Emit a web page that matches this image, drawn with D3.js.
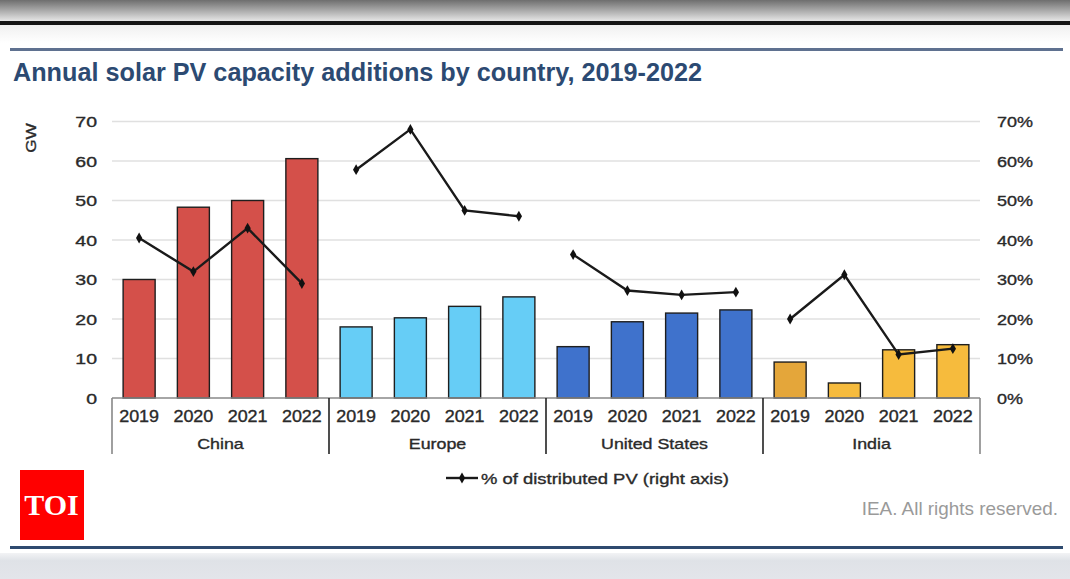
<!DOCTYPE html>
<html><head><meta charset="utf-8">
<script src="https://cdn.jsdelivr.net/npm/d3@7/dist/d3.min.js"></script>
<style>html,body{margin:0;padding:0;background:#fff;}svg{display:block;}</style>
</head><body>
<script>
const countries = ["China", "Europe", "United States", "India"];
const years = ["2019", "2020", "2021", "2022"];
const gwChina = [30, 48.3, 50, 60.6];
const gwEurope = [18, 20.3, 23.2, 25.6];
const gwUS = [13, 19.3, 21.5, 22.3];
const gwIndia = [9.1, 3.8, 12.2, 13.5];
const pctChina = [40.5, 32, 43, 29];
const pctEurope = [57.8, 68, 47.5, 46];
const pctUS = [36.3, 27.2, 26.1, 26.8];
const pctIndia = [20, 31.2, 11, 12.5];
const leftTicks = [0, 10, 20, 30, 40, 50, 60, 70];
const rightTicks = [0, 10, 20, 30, 40, 50, 60, 70];
const barColors = {
  "China": ["#d4504a", "#d4504a", "#d4504a", "#d4504a"],
  "Europe": ["#66cdf6", "#66cdf6", "#66cdf6", "#66cdf6"],
  "United States": ["#3f72cc", "#3f72cc", "#3f72cc", "#3f72cc"],
  "India": ["#e4a63a", "#f6bb3d", "#f6bb3d", "#f6bb3d"]
};
const gw = {"China": gwChina, "Europe": gwEurope, "United States": gwUS, "India": gwIndia};
const pct = {"China": pctChina, "Europe": pctEurope, "United States": pctUS, "India": pctIndia};

const W = 1070, H = 579;
const svg = d3.select("body").append("svg").attr("width", W).attr("height", H);
const defs = svg.append("defs");
const gTop = defs.append("linearGradient").attr("id", "gtop").attr("x1", 0).attr("y1", 0).attr("x2", 0).attr("y2", 1);
gTop.append("stop").attr("offset", "0%").attr("stop-color", "#6e6e6e");
gTop.append("stop").attr("offset", "100%").attr("stop-color", "#e6e6e6");
const gMid = defs.append("linearGradient").attr("id", "gmid").attr("x1", 0).attr("y1", 0).attr("x2", 0).attr("y2", 1);
gMid.append("stop").attr("offset", "0%").attr("stop-color", "#f0f0f0");
gMid.append("stop").attr("offset", "100%").attr("stop-color", "#ffffff");
const gBot = defs.append("linearGradient").attr("id", "gbot").attr("x1", 0).attr("y1", 0).attr("x2", 0).attr("y2", 1);
gBot.append("stop").attr("offset", "0%").attr("stop-color", "#f2f3f5");
gBot.append("stop").attr("offset", "30%").attr("stop-color", "#dfe2e7");
gBot.append("stop").attr("offset", "100%").attr("stop-color", "#e3e5ea");

svg.append("rect").attr("x", 0).attr("y", 0).attr("width", W).attr("height", 21).attr("fill", "url(#gtop)");
svg.append("rect").attr("x", 0).attr("y", 21).attr("width", W).attr("height", 4).attr("fill", "#151515");
svg.append("rect").attr("x", 0).attr("y", 25).attr("width", W).attr("height", 18).attr("fill", "url(#gmid)");
svg.append("rect").attr("x", 0).attr("y", 553).attr("width", W).attr("height", 26).attr("fill", "url(#gbot)");

svg.append("rect").attr("x", 10).attr("y", 48).attr("width", 1053).attr("height", 3).attr("fill", "#5f7190");
svg.append("rect").attr("x", 10).attr("y", 546).attr("width", 1053).attr("height", 3).attr("fill", "#2e4a6f");

svg.append("text").attr("x", 13).attr("y", 81)
  .attr("font-family", "Liberation Sans, Arial, sans-serif").attr("font-weight", "bold")
  .attr("font-size", 25).attr("fill", "#2c4a72")
  .attr("textLength", 689).attr("lengthAdjust", "spacingAndGlyphs")
  .text("Annual solar PV capacity additions by country, 2019-2022");

const x0 = 112, x1 = 980, yTop = 121.5, yBase = 398;
const xGroup = d3.scaleBand().domain(countries).range([x0, x1]).paddingInner(0).paddingOuter(0);
const xYear = d3.scaleBand().domain(years).range([0, xGroup.bandwidth()]).paddingInner(0.41).paddingOuter(0.205);
const yL = d3.scaleLinear().domain([0, 70]).range([yBase, yTop]);
const yR = d3.scaleLinear().domain([0, 70]).range([yBase, yTop]);

const font = "Liberation Sans, Arial, sans-serif";
const tc = "#2a2a2a";
function styl(sel, size) {
  return sel.attr("font-family", font).attr("font-size", size).attr("fill", tc)
    .attr("stroke", tc).attr("stroke-width", 0.35);
}

// gridlines
svg.append("g").selectAll("line").data(leftTicks.filter(d => d > 0)).join("line")
  .attr("x1", x0).attr("x2", x1).attr("y1", d => yL(d)).attr("y2", d => yL(d))
  .attr("stroke", "#e0e0e0").attr("stroke-width", 1.5);

// left axis labels
styl(svg.append("g").selectAll("text").data(leftTicks).join("text")
  .attr("transform", d => `translate(97,${yL(d) + 5.5}) scale(1.3,1)`).attr("text-anchor", "end")
  .text(d => d), 15);
styl(svg.append("g").selectAll("text").data(rightTicks).join("text")
  .attr("transform", d => `translate(997,${yR(d) + 5.5}) scale(1.2,1)`).attr("text-anchor", "start")
  .text(d => d + "%"), 15);
styl(svg.append("text").attr("transform", "translate(36,138) rotate(-90) scale(1.15,1)").attr("text-anchor", "middle")
  .text("GW"), 15);

// bars
const groups = svg.append("g").selectAll("g").data(countries).join("g")
  .attr("transform", c => `translate(${xGroup(c)},0)`);
groups.selectAll("rect").data(c => years.map((y, i) => ({c, y, v: gw[c][i], col: barColors[c][i]}))).join("rect")
  .attr("x", d => xYear(d.y)).attr("width", xYear.bandwidth())
  .attr("y", d => yL(d.v)).attr("height", d => yBase - yL(d.v))
  .attr("fill", d => d.col).attr("stroke", "#1e1e1e").attr("stroke-width", 1.4);

// lines
const line = d3.line().x(d => xYear(d.y) + xYear.bandwidth() / 2).y(d => yR(d.v));
groups.append("path").datum(c => years.map((y, i) => ({y, v: pct[c][i]})))
  .attr("d", line).attr("fill", "none").attr("stroke", "#1a1a1a").attr("stroke-width", 2.4);
const diamond = d3.symbol().type(d3.symbolDiamond).size(34);
groups.selectAll("path.m").data(c => years.map((y, i) => ({y, v: pct[c][i]}))).join("path")
  .attr("class", "m").attr("d", diamond)
  .attr("transform", d => `translate(${xYear(d.y) + xYear.bandwidth() / 2},${yR(d.v)})`)
  .attr("fill", "#111");

// x axis
svg.append("line").attr("x1", x0).attr("x2", x1).attr("y1", yBase).attr("y2", yBase)
  .attr("stroke", "#888").attr("stroke-width", 1.5);
const seps = countries.map(c => xGroup(c)).concat([x1]);
svg.append("g").selectAll("line").data(seps).join("line")
  .attr("x1", d => d).attr("x2", d => d).attr("y1", yBase).attr("y2", 454)
  .attr("stroke", (d, i) => (i === 0 || i === seps.length - 1) ? "#888" : "#222").attr("stroke-width", 1.6);
styl(groups.selectAll("text.yr").data(years).join("text").attr("class", "yr")
  .attr("transform", y => `translate(${xYear(y) + xYear.bandwidth() / 2},421.5) scale(1.12,1)`).attr("text-anchor", "middle")
  .text(y => y), 16);
styl(groups.append("text").attr("transform", `translate(${xGroup.bandwidth() / 2},449) scale(1.15,1)`).attr("text-anchor", "middle")
  .text(c => c), 15.5);

// legend
svg.append("line").attr("x1", 446).attr("x2", 478).attr("y1", 478).attr("y2", 478)
  .attr("stroke", "#1a1a1a").attr("stroke-width", 2.4);
svg.append("path").attr("d", diamond).attr("transform", "translate(462,478)").attr("fill", "#111");
styl(svg.append("text").attr("transform", "translate(481,483.5) scale(1.19,1)")
  .text("% of distributed PV (right axis)"), 15.5);

svg.append("text").attr("transform", "translate(1058,514.5) scale(1.08,1)").attr("text-anchor", "end")
  .attr("font-family", font).attr("font-size", 17.5).attr("fill", "#9a9a9a").text("IEA. All rights reserved.");

// TOI logo
svg.append("rect").attr("x", 20).attr("y", 470).attr("width", 64).attr("height", 70).attr("fill", "#ff0000");
svg.append("text").attr("x", 51.5).attr("y", 515).attr("text-anchor", "middle")
  .attr("font-family", "Liberation Serif, Times New Roman, serif").attr("font-weight", "bold")
  .attr("font-size", 30).attr("fill", "#fff").text("TOI");
</script>
</body></html>
